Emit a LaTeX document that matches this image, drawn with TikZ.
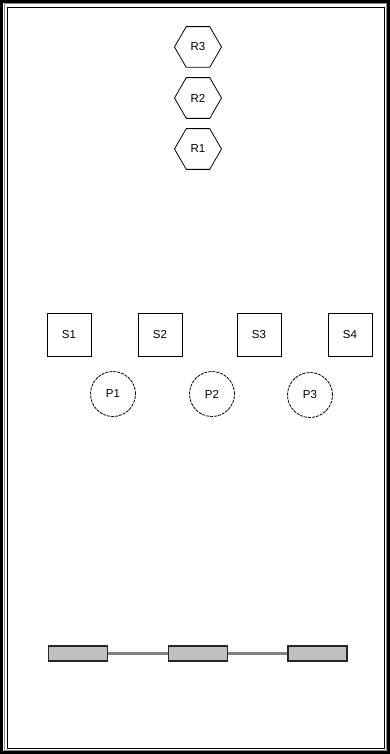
\documentclass[tikz,border=0pt]{standalone}
\usepackage{fontspec}
\setmainfont{Liberation Sans}
\usetikzlibrary{shapes.geometric}

\begin{document}
\begin{tikzpicture}[x=1pt,y=-1pt,line width=0.8pt,
  font=\fontsize{11.5}{13}\selectfont,
  hexnode/.style={draw,regular polygon,regular polygon sides=6,minimum size=47pt,inner sep=0pt},
  stnode/.style={draw,minimum width=44pt,minimum height=43pt,inner sep=0pt},
  pnode/.style={draw,circle,dash pattern=on 3pt off 1pt,minimum size=45pt,inner sep=0pt},
  barnode/.style={draw=black!85,fill=black!25,line width=1.1pt,minimum width=59pt,minimum height=15pt,inner sep=0pt}]
\useasboundingbox (0,0) rectangle (390,754);
% frame
\fill[white] (0,0) rectangle (390,754);
\draw[line width=3pt] (1.5,1.5) rectangle (388.5,752.5);
\draw[black!45,line width=1pt] (4,4) rectangle (386,750);
\draw[line width=0.8pt] (7,7) rectangle (384,748);
% hexagons
\node[hexnode] (r3) at (198,47) {R3};
\node[hexnode] (r2) at (198,98) {R2};
\node[hexnode] (r1) at (198,149) {R1};
% squares
\node[stnode] (s1) at (69,335) {S1};
\node[stnode] (s2) at (160,335) {S2};
\node[stnode] (s3) at (259,335) {S3};
\node[stnode] (s4) at (350,335) {S4};
% circles
\node[pnode] (p1) at (113,394) {P1};
\node[pnode] (p2) at (212,394) {P2};
\node[pnode] (p3) at (310,395) {P3};
% bars
\node[barnode] (b1) at (78,653.5) {};
\node[barnode] (b2) at (198,653.5) {};
\node[barnode] (b3) at (317.5,653.5) {};
\draw[black!50,line width=3.5pt] (b1.east) -- (b2.west);
\draw[black!50,line width=3.5pt] (b2.east) -- (b3.west);
\end{tikzpicture}
\end{document}
